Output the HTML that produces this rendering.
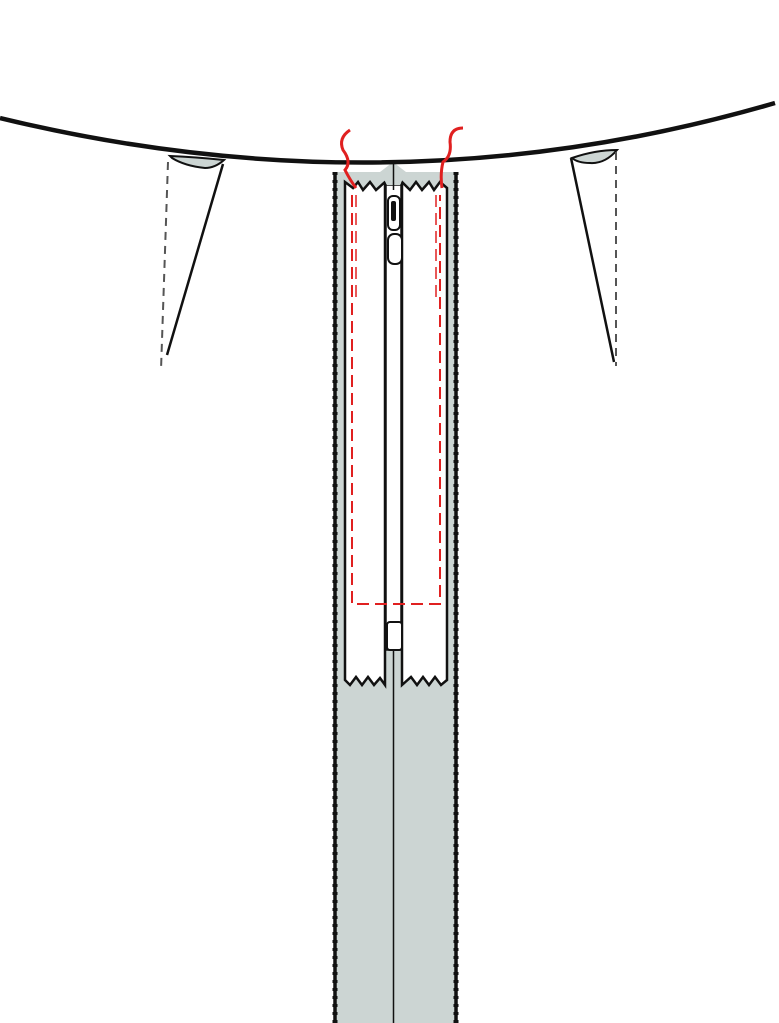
<!DOCTYPE html>
<html><head><meta charset="utf-8"><style>html,body{margin:0;padding:0;background:#fff}svg{display:block}</style></head>
<body>
<svg width="779" height="1023" viewBox="0 0 779 1023" xmlns="http://www.w3.org/2000/svg">
<path d="M170,156 Q195,157 224,160 Q215,168 205,168 Q185,166 172,158 Z" fill="#ccd5d3" stroke="#111" stroke-width="2"/>
<line x1="223" y1="164" x2="167" y2="355" stroke="#111" stroke-width="2.5"/>
<line x1="168" y1="162" x2="161" y2="370" stroke="#555" stroke-width="2" stroke-dasharray="8,6"/>
<path d="M572,158 Q595,150 617,150 Q605,164 590,163 Q578,163 572,158 Z" fill="#ccd5d3" stroke="#111" stroke-width="2"/>
<line x1="571" y1="158" x2="614" y2="362" stroke="#111" stroke-width="2.5"/>
<line x1="616" y1="152" x2="616" y2="366" stroke="#555" stroke-width="2" stroke-dasharray="8,6"/>
<rect x="335" y="172" width="122" height="851" fill="#ccd5d3"/>
<path d="M335,172 L335,1023" stroke="#111" stroke-width="3.5" fill="none"/>
<path d="M335,172 l0,851" stroke="#111" stroke-width="5" stroke-dasharray="3,5" fill="none"/>
<path d="M456,172 L456,1023" stroke="#111" stroke-width="3.5" fill="none"/>
<path d="M456,172 l0,851" stroke="#111" stroke-width="5" stroke-dasharray="3,5" fill="none"/>
<path d="M345,182 L353,188 L358,182 L363,190 L370,182 L376,190 L385,182 L385,685 L380,678 L374,685 L368,677 L362,685 L356,677 L350,685 L345,680 Z" fill="#fff" stroke="#111" stroke-width="2.5"/>
<path d="M402,182 L410,190 L416,182 L422,190 L429,182 L434,190 L440,182 L447,188 L447,680 L441,685 L435,677 L429,685 L423,677 L417,685 L411,677 L402,685 Z" fill="#fff" stroke="#111" stroke-width="2.5"/>
<rect x="386" y="185" width="15" height="465" fill="#fff" stroke="#111" stroke-width="1.5"/>
<line x1="393.5" y1="650" x2="393.5" y2="1023" stroke="#111" stroke-width="1.5"/>
<path d="M380,172 L393,162 L406,172 L400,185 L387,185 Z" fill="#ccd5d3"/>
<line x1="393.5" y1="162" x2="393.5" y2="190" stroke="#111" stroke-width="1.5"/>
<rect x="388" y="196" width="12" height="34" rx="5" fill="#fff" stroke="#111" stroke-width="2"/>
<rect x="391" y="201" width="5" height="20" rx="2" fill="#111"/>
<rect x="388" y="234" width="14" height="30" rx="6" fill="#fff" stroke="#111" stroke-width="2"/>
<rect x="387" y="622" width="15" height="28" rx="3" fill="#fff" stroke="#111" stroke-width="2"/>
<path d="M0,118 Q395,214 775,103" fill="none" stroke="#111" stroke-width="4.5"/>
<path d="M352,195 L352,604 L440,604 L440,195" fill="none" stroke="#e02020" stroke-width="2" stroke-dasharray="12,6"/>
<path d="M356,195 L356,300" fill="none" stroke="#e02020" stroke-width="1.5" stroke-dasharray="12,6"/>
<path d="M436,195 L436,300" fill="none" stroke="#e02020" stroke-width="1.5" stroke-dasharray="12,6"/>
<path d="M350,130 Q338,138 343,150 Q352,162 345,170 Q350,180 356,188" fill="none" stroke="#e02020" stroke-width="3"/>
<path d="M463,128 Q450,128 450,142 Q452,156 443,162 Q440,174 442,188" fill="none" stroke="#e02020" stroke-width="3"/>
</svg>
</body></html>
